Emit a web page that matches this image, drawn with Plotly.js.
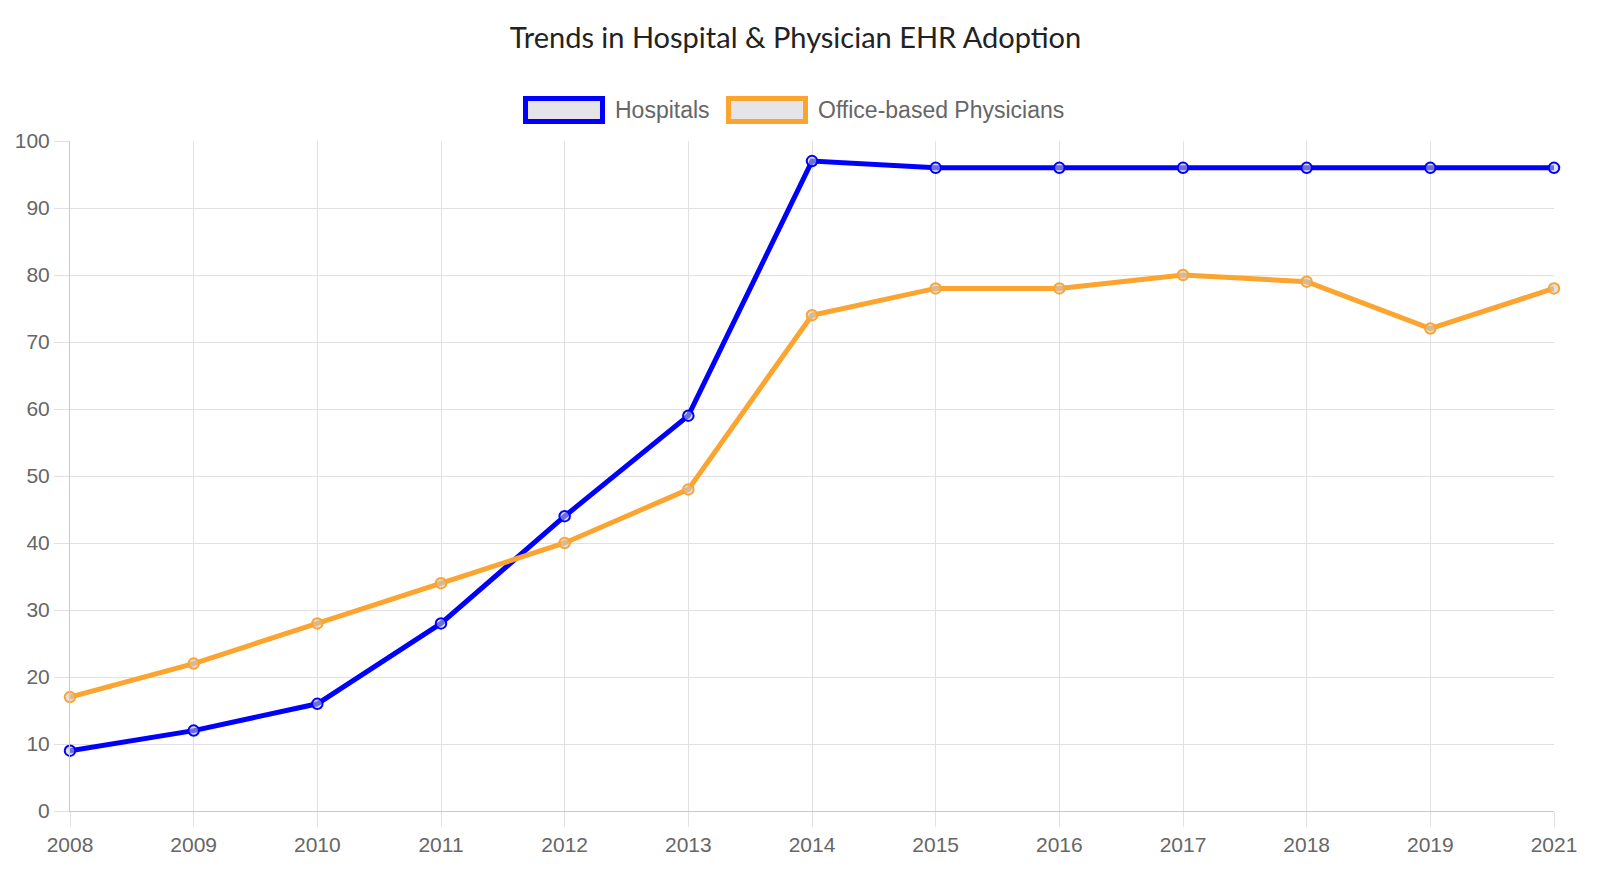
<!DOCTYPE html>
<html>
<head>
<meta charset="utf-8">
<script src="https://cdn.plot.ly/plotly-3.0.1.min.js"></script>
<style>
  html, body { margin: 0; padding: 0; background: #fff; }
  #chart { width: 1600px; height: 882px; }
</style>
</head>
<body>
<div id="chart"></div>
<script>
// category labels (the source has no 2020 entry)
var years = ['2008', '2009', '2010', '2011', '2012', '2013', '2014', '2015', '2016', '2017', '2018', '2019', '2021'];
var hospitals = [9, 12, 16, 28, 44, 59, 97, 96, 96, 96, 96, 96, 96];
var physicians = [17, 22, 28, 34, 40, 48, 74, 78, 78, 80, 79, 72, 78];
var seriesNames = ['Hospitals', 'Office-based Physicians'];
var seriesColors = ['#0000ff', '#fba430'];

var GRID = '#e2e0e4';
var AXIS = '#cbc9cd';
var TEXT = '#666666';

// plot box in pixels
var PL = 70, PR = 1554, PT = 141, PB = 811;
function px(x) { return (x - PL) / (PR - PL); }
function py(y) { return (PB - y) / (PB - PT); }

function lineTrace(name, ys, color) {
    return {
        x: years,
        y: ys,
        name: name,
        type: 'scatter',
        mode: 'lines+markers',
        cliponaxis: false,
        showlegend: false,
        line: { color: color, width: 5 },
        marker: {
            symbol: 'circle',
            size: 10.5,
            color: 'rgba(200,200,205,0.55)',
            line: { color: color, width: 2 }
        },
        hoverinfo: 'x+y+name'
    };
}

var data = [
    lineTrace(seriesNames[0], hospitals, seriesColors[0]),
    lineTrace(seriesNames[1], physicians, seriesColors[1])
];

// legend drawn as boxes with a coloured border, like the original
var boxLeft = [523, 726];
var textLeft = [615, 818];
var legendShapes = [];
var legendNotes = [];
seriesNames.forEach(function (n, i) {
    legendShapes.push({
        type: 'rect', xref: 'paper', yref: 'paper',
        x0: px(boxLeft[i] + 2.5), x1: px(boxLeft[i] + 79.5),
        y0: py(121.5), y1: py(98.5),
        line: { color: seriesColors[i], width: 5 },
        fillcolor: '#e6e4e8'
    });
    legendNotes.push({
        xref: 'paper', yref: 'paper',
        x: px(textLeft[i] - 2), y: py(110),
        xanchor: 'left', yanchor: 'middle',
        showarrow: false, text: n,
        font: { family: 'Liberation Sans, Arial, sans-serif', size: 23, color: TEXT }
    });
});

var layout = {
    width: 1600,
    height: 882,
    paper_bgcolor: '#ffffff',
    plot_bgcolor: '#ffffff',
    margin: { l: PL, r: 1600 - PR, t: PT, b: 882 - PB },
    showlegend: false,
    title: {
        text: 'Trends in Hospital & Physician EHR Adoption',
        x: 795.5 / 1600,
        xanchor: 'center',
        xref: 'container',
        y: 1 - 38 / 882,
        yanchor: 'middle',
        font: { family: 'Lato, sans-serif', size: 29, color: '#222222' }
    },
    font: { family: 'Liberation Sans, Arial, sans-serif', size: 21, color: TEXT },
    xaxis: {
        type: 'category',
        range: [0, years.length - 1],
        showgrid: true,
        gridcolor: GRID,
        gridwidth: 1,
        zeroline: false,
        showline: true,
        linecolor: AXIS,
        linewidth: 1,
        ticks: 'outside',
        ticklen: 15,
        tickcolor: GRID,
        ticklabelstandoff: 0,
        tickfont: { size: 21, color: TEXT }
    },
    yaxis: {
        range: [0, 100],
        dtick: 10,
        showgrid: true,
        gridcolor: GRID,
        gridwidth: 1,
        zeroline: false,
        showline: true,
        linecolor: AXIS,
        linewidth: 1,
        ticks: 'outside',
        ticklen: 15,
        tickcolor: GRID,
        ticklabelstandoff: 0,
        tickfont: { size: 21, color: TEXT }
    },
    shapes: legendShapes,
    annotations: legendNotes,
    hovermode: 'closest'
};

Plotly.newPlot('chart', data, layout, { displayModeBar: false, staticPlot: true });
</script>
</body>
</html>
